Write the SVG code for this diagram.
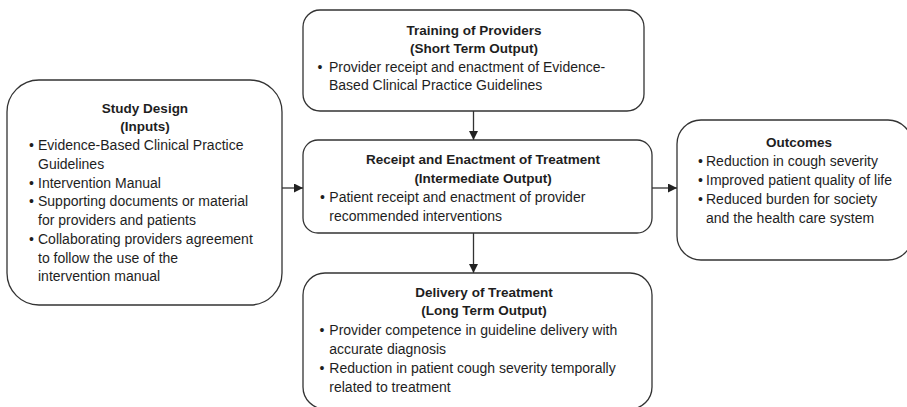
<svg xmlns="http://www.w3.org/2000/svg" width="907" height="407" viewBox="0 0 907 407">
<style>
  .box { fill: #ffffff; stroke: #333333; stroke-width: 1.3; }
  .t { font-family: "Liberation Sans", Arial, sans-serif; font-size: 14px; fill: #1e1e1e; }
  .h { font-family: "Liberation Sans", Arial, sans-serif; font-size: 13.5px; font-weight: bold; fill: #1e1e1e; text-anchor: middle; }
  .c { stroke: #333333; stroke-width: 1.3; fill: none; marker-end: url(#ah); }
</style>
<defs>
  <marker id="ah" viewBox="0 0 10 10" refX="10" refY="5" markerUnits="userSpaceOnUse" markerWidth="9" markerHeight="9" orient="auto">
    <path d="M0,0 L10,5 L0,10 z" fill="#222222"/>
  </marker>
</defs>
<rect width="907" height="407" fill="#ffffff"/>

<g id="connectors">
  <line class="c" x1="282" y1="188" x2="303" y2="188"/>
  <line class="c" x1="652" y1="188" x2="677" y2="188"/>
  <line class="c" x1="473.5" y1="111" x2="473.5" y2="140"/>
  <line class="c" x1="473.5" y1="233" x2="473.5" y2="273"/>
</g>

<g id="study-design">
  <rect class="box" x="7" y="80" width="275" height="225" rx="32" ry="32"/>
  <text class="h" x="145" y="112.5">Study Design</text>
  <text class="h" x="145" y="131">(Inputs)</text>
  <text class="t"><tspan x="29" y="150">•</tspan><tspan x="38" y="150">Evidence-Based Clinical Practice</tspan></text>
  <text class="t" x="38" y="168.5">Guidelines</text>
  <text class="t"><tspan x="29" y="187.5">•</tspan><tspan x="38" y="187.5">Intervention Manual</tspan></text>
  <text class="t"><tspan x="29" y="206">•</tspan><tspan x="38" y="206">Supporting documents or material</tspan></text>
  <text class="t" x="38" y="225">for providers and patients</text>
  <text class="t"><tspan x="29" y="243.5">•</tspan><tspan x="38" y="243.5">Collaborating providers agreement</tspan></text>
  <text class="t" x="38" y="262.5">to follow the use of the</text>
  <text class="t" x="38" y="281">intervention manual</text>
</g>

<g id="training">
  <rect class="box" x="303" y="10" width="341" height="101" rx="17" ry="17"/>
  <text class="h" x="474" y="34.5">Training of Providers</text>
  <text class="h" x="474" y="53">(Short Term Output)</text>
  <text class="t"><tspan x="317.5" y="71.7">•</tspan><tspan x="329" y="71.7">Provider receipt and enactment of Evidence-</tspan></text>
  <text class="t" x="329" y="90.4">Based Clinical Practice Guidelines</text>
</g>

<g id="receipt">
  <rect class="box" x="303" y="140" width="349" height="93" rx="15" ry="15"/>
  <text class="h" x="483" y="164">Receipt and Enactment of Treatment</text>
  <text class="h" x="483" y="182.7">(Intermediate Output)</text>
  <text class="t"><tspan x="320" y="202">•</tspan><tspan x="329.3" y="202">Patient receipt and enactment of provider</tspan></text>
  <text class="t" x="329.3" y="220.7">recommended interventions</text>
</g>

<g id="delivery">
  <rect class="box" x="303" y="273" width="349" height="136" rx="22" ry="22"/>
  <text class="h" x="484" y="296.5">Delivery of Treatment</text>
  <text class="h" x="484" y="315.2">(Long Term Output)</text>
  <text class="t"><tspan x="319.5" y="334.5">•</tspan><tspan x="329.3" y="334.5">Provider competence in guideline delivery with</tspan></text>
  <text class="t" x="329.3" y="353.5">accurate diagnosis</text>
  <text class="t"><tspan x="319.5" y="373">•</tspan><tspan x="329.3" y="373">Reduction in patient cough severity temporally</tspan></text>
  <text class="t" x="329.3" y="392">related to treatment</text>
</g>

<g id="outcomes">
  <rect class="box" x="677" y="120" width="235" height="140" rx="24" ry="24"/>
  <text class="h" x="799" y="146.5">Outcomes</text>
  <text class="t"><tspan x="698" y="166">•</tspan><tspan x="706" y="166">Reduction in cough severity</tspan></text>
  <text class="t"><tspan x="698" y="185">•</tspan><tspan x="706" y="185">Improved patient quality of life</tspan></text>
  <text class="t"><tspan x="698" y="204">•</tspan><tspan x="706" y="204">Reduced burden for society</tspan></text>
  <text class="t" x="706" y="222.5">and the health care system</text>
</g>
</svg>
